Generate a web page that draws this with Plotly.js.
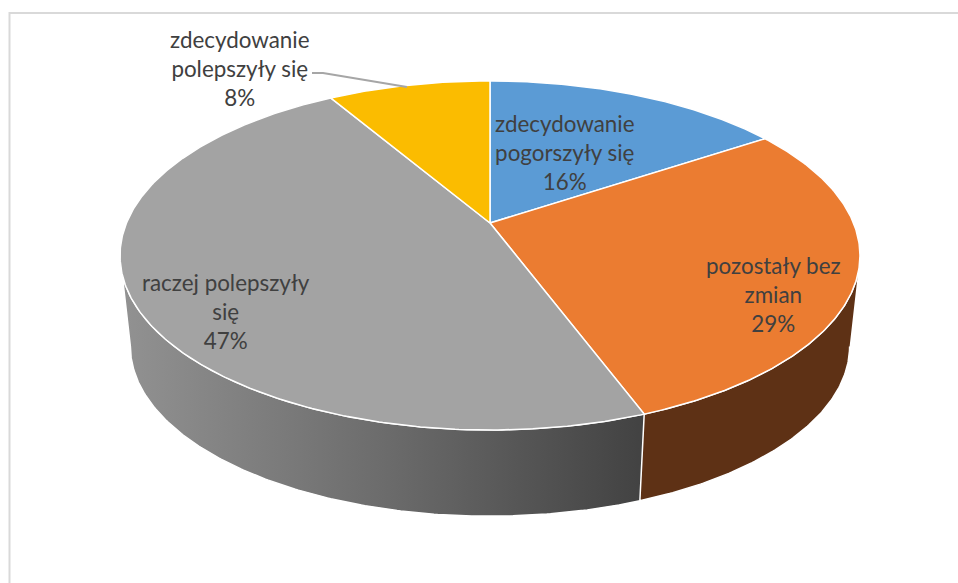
<!DOCTYPE html>
<html><head><meta charset="utf-8">
<script src="https://cdn.plot.ly/plotly-3.0.1.min.js"></script>
<style>html,body{margin:0;padding:0;background:#fff}#c{width:958px;height:583px}</style>
</head><body><div id="c"></div>
<script>
const categories = ["zdecydowanie<br>pogorszyły się", "pozostały bez<br>zmian", "raczej polepszyły<br>się", "zdecydowanie<br>polepszyły się"];
const values = [15.7, 28.6, 47.2, 8.49];
const faceColors = ["#5B9BD5", "#EB7C31", "#A3A3A3", "#FBBC00"];
const labelX = [565, 773, 226, 240];
const labelY = [152, 294, 311, 68];

// projection of the pie's disc (perspective view)
const cx = 490, cy = 223, c = 363.5, a = 168.5, b = -0.186, depthScale = 0.972, depthShift = 92;
const total = values.reduce((s, v) => s + v, 0);
const project = (deg, lower) => {
  const t = deg * Math.PI / 180, u = Math.sin(t), v = -Math.cos(t), d = 1 + b * v;
  const s = lower ? depthScale : 1;
  return [cx + s * c * u / d, cy + (lower ? depthShift : 0) + s * a * v / d];
};
const arc = (from, to, lower) => {
  const n = Math.max(2, Math.ceil(Math.abs(to - from) * 2)), pts = [];
  for (let i = 0; i <= n; i++) pts.push(project(from + (to - from) * i / n, lower));
  return pts;
};
const poly = (pts, style) => Object.assign({
  x: pts.map(p => p[0]), y: pts.map(p => p[1]), type: "scatter", mode: "lines",
  fill: "toself", hoverinfo: "skip", showlegend: false,
  line: {color: "#ffffff", width: 1.5}
}, style);

const bounds = [0];
values.forEach(v => bounds.push(bounds[bounds.length - 1] + v / total * 360));
const extreme = Math.asin(-b) * 180 / Math.PI;        // angle offset of the silhouette edge
const rightEdge = 90 + extreme, leftEdge = 270 - extreme;

const wall = (from, to) => arc(from, to, false).concat(arc(to, from, true));
const traces = [
  poly(wall(bounds[2], leftEdge), {fillgradient: {type: "horizontal",
    colorscale: [[0, "#929292"], [0.5, "#6c6c6c"], [1, "#424242"]]}}),
  poly(wall(rightEdge, bounds[2]), {fillcolor: "#5E3115"})
];
values.forEach((v, i) => {
  const pts = [[cx, cy]].concat(arc(bounds[i], bounds[i + 1], false));
  pts.push([cx, cy]);
  traces.push(poly(pts, {fillcolor: faceColors[i]}));
});

const annotations = categories.map((name, i) => ({
  x: labelX[i], y: labelY[i], xref: "x", yref: "y", showarrow: false,
  text: name + "<br>" + Math.round(values[i] / total * 100) + "%",
  align: "center", xanchor: "center", yanchor: "middle",
  font: {family: "Lato, 'Noto Sans', sans-serif", size: 22.4, color: "#404040"}
}));

const layout = {
  width: 958, height: 583, margin: {l: 0, r: 0, t: 0, b: 0},
  paper_bgcolor: "#ffffff", plot_bgcolor: "#ffffff", showlegend: false,
  xaxis: {range: [0, 958], visible: false, fixedrange: true},
  yaxis: {range: [583, 0], visible: false, fixedrange: true},
  annotations,
  shapes: [
    {type: "path", xref: "x", yref: "y", path: "M9.5,583 L9.5,13 L958,13",
     line: {color: "#D9D9D9", width: 2}},
    {type: "path", xref: "x", yref: "y", path: "M312,73 L323,73 L407,87",
     line: {color: "#A6A6A6", width: 2}}
  ]
};
Plotly.newPlot("c", traces, layout, {displayModeBar: false, staticPlot: true});
</script></body></html>
